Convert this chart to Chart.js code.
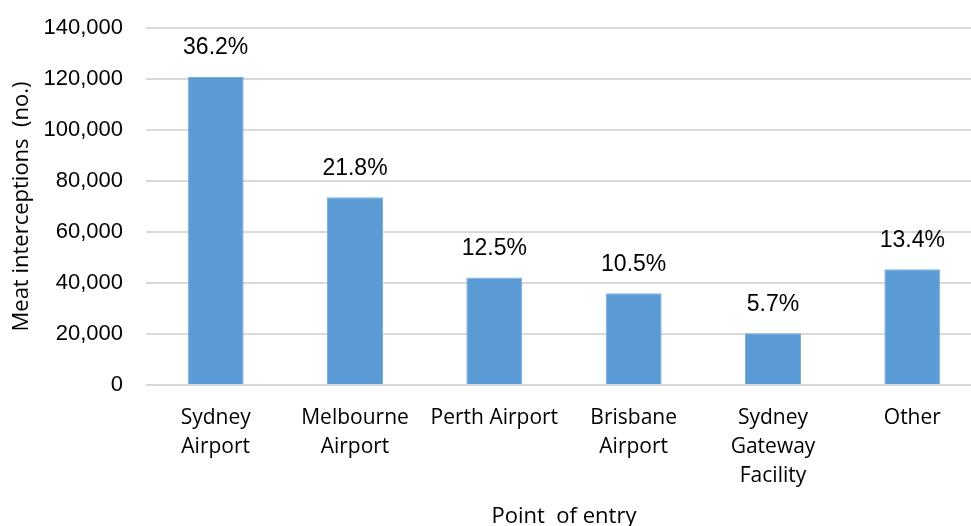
<!DOCTYPE html>
<html>
<head>
<meta charset="utf-8">
<script src="https://cdn.jsdelivr.net/npm/chart.js@4"></script>
<style>
  html, body { margin: 0; padding: 0; overflow: hidden; background: #fff; }
  canvas { display: block; }
</style>
</head>
<body>
<canvas id="grafica" width="982" height="540"></canvas>
<script>
//--------Datos
const puntosEntrada = [["Sydney", "Airport"], ["Melbourne", "Airport"], "Perth Airport", ["Brisbane", "Airport"], ["Sydney", "Gateway", "Facility"], "Other"]
const intercepciones = [120800, 73600, 42200, 36000, 20300, 45400]
const porcentajes = ["36.2%", "21.8%", "12.5%", "10.5%", "5.7%", "13.4%"]
const ticksEjeY = [0, 20000, 40000, 60000, 80000, 100000, 120000, 140000]

//Etiquetas de porcentaje encima de cada barra
const etiquetasBarras = {
    id: 'etiquetasBarras',
    afterDatasetsDraw(chart) {
        const ctx = chart.ctx
        const meta = chart.getDatasetMeta(0)
        ctx.save()
        ctx.font = '23px "Liberation Sans", Arial, sans-serif'
        ctx.fillStyle = '#000'
        ctx.textAlign = 'center'
        ctx.textBaseline = 'middle'
        meta.data.forEach((barra, i) => {
            ctx.fillText(porcentajes[i], barra.x, barra.y - 29)
        })
        ctx.restore()
    }
}

window.onload = () => {
    const canvaGrafica = document.getElementById('grafica')

    new Chart(canvaGrafica, {
        type: 'bar',
        data: {
            labels: puntosEntrada,
            datasets: [{
                label: 'Meat interceptions',
                data: intercepciones,
                backgroundColor: '#5b9bd5',
                borderColor: '#7aaee0',
                borderWidth: 1,
                categoryPercentage: 1,
                barPercentage: 0.402
            }]
        },
        options: {
            responsive: false,
            animation: false,
            devicePixelRatio: 1,
            layout: { padding: { top: 28, right: 0, bottom: 0, left: 0 } },
            plugins: {
                legend: { display: false },
                tooltip: { enabled: false }
            },
            scales: {
                x: {
                    grid: { display: false, drawTicks: false },
                    border: { display: false },
                    ticks: {
                        color: '#000',
                        padding: 19,
                        maxRotation: 0,
                        autoSkip: false,
                        font: { family: '"Open Sans", sans-serif', size: 21, lineHeight: 1.38 }
                    },
                    title: {
                        display: true,
                        text: 'Point  of entry',
                        color: '#000',
                        padding: { top: 0, bottom: 10 },
                        font: { family: '"Open Sans", sans-serif', size: 22, lineHeight: 1.2 }
                    },
                    afterFit: (escala) => { escala.height = 155 }
                },
                y: {
                    min: 0,
                    max: 140000,
                    afterBuildTicks: (escala) => {
                        escala.ticks = ticksEjeY.map(v => ({ value: v }))
                    },
                    grid: { color: '#d9d9d9', lineWidth: 2, drawTicks: false },
                    border: { display: false },
                    ticks: {
                        color: '#000',
                        padding: 23,
                        font: { family: '"Liberation Sans", Arial, sans-serif', size: 22 },
                        callback: (valor) => valor.toLocaleString('en-US')
                    },
                    title: {
                        display: true,
                        text: 'Meat interceptions  (no.)',
                        color: '#000',
                        padding: { top: 9, bottom: 0 },
                        font: { family: '"Open Sans", sans-serif', size: 22, lineHeight: 1.2 }
                    },
                    afterFit: (escala) => {
                        escala.width = 146
                        escala.paddingTop = 0 //el padding de los ticks empujaba el area hacia abajo
                    }
                }
            }
        },
        plugins: [etiquetasBarras]
    })
}
</script>
</body>
</html>
